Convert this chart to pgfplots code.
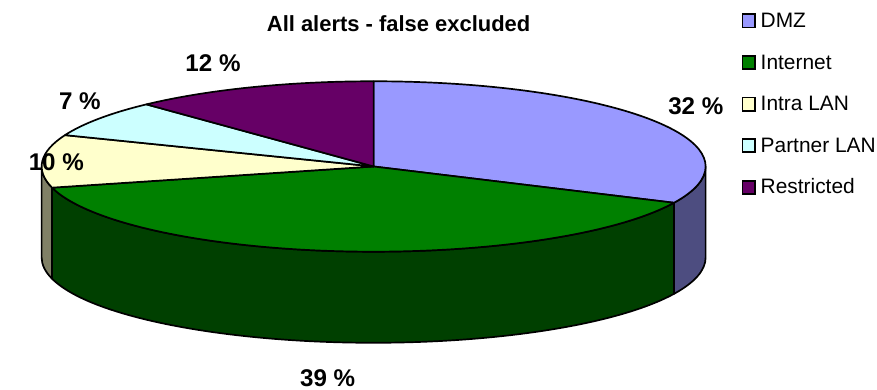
\documentclass[border=0pt]{standalone}
\usepackage{pgfplots}
\pgfplotsset{compat=1.18}
\usepackage{pgfplotstable}
\usepackage{fontspec}
\setmainfont{Liberation Sans}

% slice colours (top face and darker side wall)
\definecolor{dmz}{HTML}{9999FF}
\definecolor{dmzside}{HTML}{4D4D80}
\definecolor{inet}{HTML}{008000}
\definecolor{inetside}{HTML}{004000}
\definecolor{intra}{HTML}{FFFFCC}
\definecolor{intraside}{HTML}{808066}
\definecolor{partner}{HTML}{CCFFFF}
\definecolor{partnerside}{HTML}{668080}
\definecolor{restr}{HTML}{660066}
\definecolor{restrside}{HTML}{330033}

\newcommand\titlefont{\fontsize{16.8}{20}\bfseries\selectfont}
\newcommand\labelfont{\fontsize{18.5}{22}\bfseries\selectfont}
\newcommand\legendfont{\fontsize{16}{19}\selectfont}

% share of alerts per zone, label position
\pgfplotstableread[col sep=comma]{
name,value,top,side,lx,ly
DMZ,32,dmz,dmzside,692,108
Internet,39,inet,inetside,316,386
Intra LAN,10,intra,intraside,39,166
Partner LAN,7,partner,partnerside,63,103
Restricted,12,restr,restrside,199,65
}\piedata

% pie geometry in axis units (1 unit = 0.75pt)
\def\cx{363}\def\cy{170}\def\rx{339}\def\ry{87}
\def\rxpt{254.25pt}\def\rypt{65.25pt}\def\dpt{69.75pt}
\def\lw{1.3pt}

\begin{document}
% build the drawing commands slice by slice
\def\cum{0}
\def\sidecmds{}\def\topcmds{}\def\labelcmds{}\def\legendcmds{}
\pgfplotstablegetrowsof{\piedata}
\pgfmathtruncatemacro\nrows{\pgfplotsretval-1}
\pgfplotsforeachungrouped \k in {0,...,\nrows}{%
  \pgfplotstablegetelem{\k}{value}\of\piedata \let\val\pgfplotsretval
  \pgfplotstablegetelem{\k}{name}\of\piedata \let\nm\pgfplotsretval
  \pgfplotstablegetelem{\k}{top}\of\piedata \let\topc\pgfplotsretval
  \pgfplotstablegetelem{\k}{side}\of\piedata \let\sidec\pgfplotsretval
  \pgfplotstablegetelem{\k}{lx}\of\piedata \let\lx\pgfplotsretval
  \pgfplotstablegetelem{\k}{ly}\of\piedata \let\ly\pgfplotsretval
  \pgfmathsetmacro\angA{90-3.6*\cum}%
  \pgfmathsetmacro\angB{\angA-3.6*\val}%
  \pgfmathsetmacro\px{\cx+\rx*cos(\angA)}%
  \pgfmathsetmacro\py{\cy-\ry*sin(\angA)}%
  % part of the slice on the front half of the rim
  \pgfmathsetmacro\angS{min(\angA,0)}%
  \pgfmathsetmacro\angE{max(\angB,-180)}%
  \pgfmathsetmacro\sx{\cx+\rx*cos(\angS)}%
  \pgfmathsetmacro\sy{\cy-\ry*sin(\angS)}%
  \pgfmathtruncatemacro\vis{\angS>\angE+0.01 ? 1 : 0}%
  \ifnum\vis=1
    \xdef\sidecmds{\unexpanded\expandafter{\sidecmds}%
      \noexpand\filldraw[fill=\sidec,draw=black,line width=\lw,line join=round]
      (axis cs:\sx,\sy) arc[start angle=\angS,end angle=\angE,x radius=\rxpt,y radius=\rypt]
      -- ++(0pt,-\dpt) arc[start angle=\angE,end angle=\angS,x radius=\rxpt,y radius=\rypt] -- cycle;}%
  \fi
  \xdef\topcmds{\unexpanded\expandafter{\topcmds}%
    \noexpand\filldraw[fill=\topc,draw=black,line width=\lw,line join=round]
    (axis cs:\cx,\cy) -- (axis cs:\px,\py)
    arc[start angle=\angA,end angle=\angB,x radius=\rxpt,y radius=\rypt] -- cycle;}%
  \xdef\labelcmds{\unexpanded\expandafter{\labelcmds}%
    \noexpand\node[font=\noexpand\labelfont,inner sep=0pt] at (axis cs:\lx,\ly) {\val\space\noexpand\%};}%
  \pgfmathsetmacro\lb{28+42.5*\k}%
  \pgfmathsetmacro\lbt{\lb-13.5}%
  \xdef\legendcmds{\unexpanded\expandafter{\legendcmds}%
    \noexpand\filldraw[fill=\topc,draw=black,line width=\lw] (axis cs:739.5,\lbt) rectangle (axis cs:752.5,\lb);
    \noexpand\node[font=\noexpand\legendfont,anchor=base west,inner sep=0pt] at (axis cs:758,\lb) {\nm};}%
  \pgfmathsetmacro\cum{\cum+\val}%
}
\begin{tikzpicture}
\begin{axis}[
  scale only axis, width=657.75pt, height=298.5pt,
  xmin=0, xmax=877, ymin=0, ymax=398, y dir=reverse,
  hide axis, clip=false]
  \sidecmds
  \topcmds
  \labelcmds
  \legendcmds
  \node[font=\titlefont,anchor=base,inner sep=0pt] at (axis cs:388.5,32) {All alerts - false excluded};
\end{axis}
\pgfresetboundingbox
\path (current axis.south west) rectangle (current axis.north east);
\end{tikzpicture}
\end{document}
